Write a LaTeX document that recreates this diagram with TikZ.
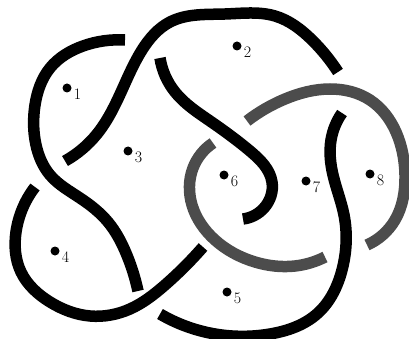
\documentclass[tikz,border=0pt]{standalone}
\usetikzlibrary{hobby}
\begin{document}
\begin{tikzpicture}[x=1pt,y=-1pt,use Hobby shortcut,
  knot/.style={line width=11.5pt,line cap=butt,black},
  gknot/.style={line width=11.5pt,line cap=butt,black!70},
  dot/.style={circle,fill=black,inner sep=0pt,minimum size=9pt},
  lab/.style={inner sep=0pt,font=\fontsize{16}{19}\selectfont}]
\useasboundingbox (0,0) rectangle (409,339);
% strand A
\draw[knot] (125,40) .. (83,46) .. (50,68) .. (35,105) .. (36,145) .. (50,175) .. (80,198) .. (108,222) .. (126,253) .. (138,291);
% strand B
\draw[knot] (65,161) .. (97,134) .. (122,90) .. (142,50) .. (170,22) .. (225,14) .. (275,16) .. (312,40) .. (338,72);
% strand C
\draw[knot] (160,58) .. (175,92) .. (210,121) .. (250,151) .. (272,182) .. (264,208) .. (243,219);
% strand D
\draw[knot] (342,113) .. (331,140) .. (333,175) .. (344,215) .. (342,270) .. (318,313) .. (270,334) .. (215,334) .. (160,314);
% strand E
\draw[knot] (203,247) .. (165,285) .. (130,309) .. (90,316) .. (50,302) .. (21,272) .. (16,232) .. (35,187);
% gray strand G1
\draw[gknot] (247,121) .. (285,99) .. (330,89) .. (370,100) .. (396,132) .. (405,175) .. (395,220) .. (367,245);
% gray strand G2
\draw[gknot] (213,143) .. (193,168) .. (192,205) .. (215,240) .. (255,262) .. (295,266) .. (325,257);
% region markers
\node[dot] (d1) at (67,88) {};
\node[dot] (d2) at (237,46) {};
\node[dot] (d3) at (128,151) {};
\node[dot] (d4) at (55,251) {};
\node[dot] (d5) at (227,292) {};
\node[dot] (d6) at (224,175) {};
\node[dot] (d7) at (306,181) {};
\node[dot] (d8) at (370,174) {};
\node[lab] (l1) at ([shift={(10.5,6.5)}]d1) {1};
\node[lab] (l2) at ([shift={(10.5,6.5)}]d2) {2};
\node[lab] (l3) at ([shift={(10.5,6.5)}]d3) {3};
\node[lab] (l4) at ([shift={(10.5,6.5)}]d4) {4};
\node[lab] (l5) at ([shift={(10.5,6.5)}]d5) {5};
\node[lab] (l6) at ([shift={(10.5,6.5)}]d6) {6};
\node[lab] (l7) at ([shift={(10.5,6.5)}]d7) {7};
\node[lab] (l8) at ([shift={(10.5,6.5)}]d8) {8};
\end{tikzpicture}
\end{document}
